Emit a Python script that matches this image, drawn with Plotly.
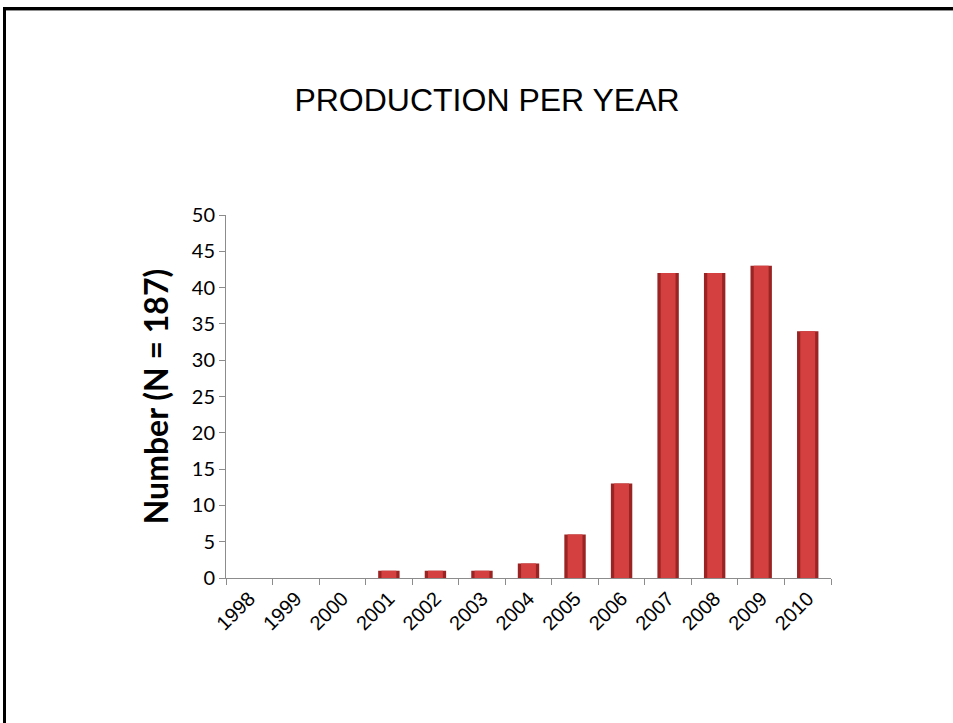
import plotly.graph_objects as go

# Yearly production counts
years = ["1998", "1999", "2000", "2001", "2002", "2003", "2004",
         "2005", "2006", "2007", "2008", "2009", "2010"]
counts = [0, 0, 0, 1, 1, 1, 2, 6, 13, 42, 42, 43, 34]
y_ticks = [0, 5, 10, 15, 20, 25, 30, 35, 40, 45, 50]

W, H = 953, 723
plot_left, plot_right = 226, 831
plot_top, plot_bottom = 215, 578

fig = go.Figure()

# Outer dark bar plus narrower bright core to give a shaded cylinder look
fig.add_trace(go.Bar(
    x=years, y=counts, width=0.46,
    marker=dict(color="#9a2424", line=dict(width=0)),
    hoverinfo="skip", showlegend=False,
))
fig.add_trace(go.Bar(
    x=years, y=counts, width=0.32,
    marker=dict(color="#d43f3f", line=dict(width=0)),
    showlegend=False,
))

# Slide frame lines (top and left edges)
def px_x(px):
    return (px - plot_left) / (plot_right - plot_left)

def px_y(py):
    return (plot_bottom - py) / (plot_bottom - plot_top)

fig.add_shape(type="line", xref="paper", yref="paper",
              x0=px_x(3), x1=px_x(W), y0=px_y(8.5), y1=px_y(8.5),
              line=dict(color="black", width=3))
fig.add_shape(type="line", xref="paper", yref="paper",
              x0=px_x(6), x1=px_x(W), y0=px_y(10.5), y1=px_y(10.5),
              line=dict(color="#909090", width=1))
fig.add_shape(type="line", xref="paper", yref="paper",
              x0=px_x(4.5), x1=px_x(4.5), y0=px_y(7), y1=px_y(H),
              line=dict(color="black", width=3))

fig.update_layout(
    width=W, height=H,
    margin=dict(l=plot_left, r=W - plot_right, t=plot_top, b=H - plot_bottom),
    paper_bgcolor="white", plot_bgcolor="white",
    barmode="overlay",
    title=dict(text="PRODUCTION PER YEAR", x=487 / W, xanchor="center",
               y=1 - 100 / H, yanchor="middle",
               font=dict(family="Liberation Sans, Arial", size=32, color="black")),
    xaxis=dict(
        type="category", categoryorder="array", categoryarray=years,
        showline=True, linecolor="#8c8c8c", linewidth=1,
        ticks="outside", ticklen=6, tickcolor="#8c8c8c",
        tickson="boundaries", tickangle=-45,
        tickfont=dict(family="Liberation Sans, Arial", size=20, color="black"),
        showgrid=False, zeroline=False,
    ),
    yaxis=dict(
        range=[0, 50], tickvals=y_ticks,
        showline=True, linecolor="#8c8c8c", linewidth=1,
        ticks="outside", ticklen=6, tickcolor="#8c8c8c",
        tickfont=dict(family="Lato, Carlito, sans-serif", size=20, color="black"),
        showgrid=False, zeroline=False,
        title=dict(text="<b>Number (N = 187)</b>", standoff=13,
                   font=dict(family="Lato, Carlito, sans-serif", size=32, color="black")),
    ),
)

fig.write_html("out.html")
